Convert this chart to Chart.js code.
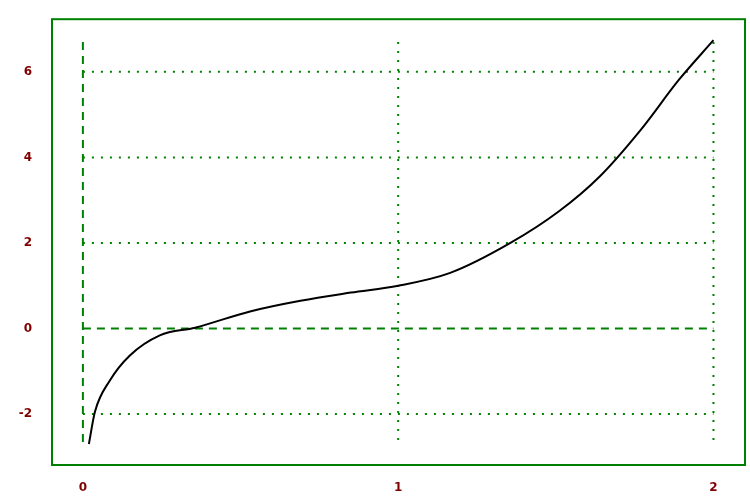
<!DOCTYPE html>
<html>
<head>
    <script src="https://cdn.jsdelivr.net/npm/chart.js"></script>
    <style>
        body { margin: 0; background: #fff; }
    </style>
</head>
<body>
<canvas id="curveChart" width="750" height="500"></canvas>
<script>
    const xValues = [0.019, 0.038, 0.086, 0.149, 0.244, 0.356, 0.53, 0.69, 0.85, 1.0, 1.165, 1.356, 1.51, 1.64, 1.77, 1.89, 2.0];
    const yValues = [-2.7, -1.95, -1.21, -0.63, -0.16, 0.02, 0.4, 0.65, 0.84, 1.0, 1.3, 2.0, 2.74, 3.56, 4.65, 5.81, 6.74];
    const xTicks = [0, 1, 2];
    const yTicks = [-2, 0, 2, 4, 6];

    const green = '#008000';

    // grid lines only span the data range, plus a green frame round the plot area
    const gridPlugin = {
        id: 'gridPlugin',
        beforeDatasetsDraw(chart) {
            const ctx = chart.ctx, x = chart.scales.x, y = chart.scales.y;
            const a = chart.chartArea;
            ctx.save();
            ctx.strokeStyle = green;
            ctx.lineWidth = 2;
            const top = y.getPixelForValue(6.7), bot = y.getPixelForValue(-2.7);
            const left = x.getPixelForValue(0), right = x.getPixelForValue(2);
            xTicks.forEach(v => {
                ctx.setLineDash(v === 0 ? [8, 6] : [2, 7]);
                const px = x.getPixelForValue(v);
                ctx.beginPath(); ctx.moveTo(px, top); ctx.lineTo(px, bot); ctx.stroke();
            });
            yTicks.forEach(v => {
                ctx.setLineDash(v === 0 ? [8, 6] : [2, 7]);
                const py = y.getPixelForValue(v);
                ctx.beginPath(); ctx.moveTo(left, py); ctx.lineTo(right, py); ctx.stroke();
            });
            ctx.setLineDash([]);
            ctx.strokeRect(a.left, a.top, a.right - a.left, a.bottom - a.top);
            ctx.restore();
        }
    };

    new Chart(document.getElementById('curveChart'), {
        type: 'line',
        data: {
            datasets: [{
                data: xValues.map((x, i) => ({ x: x, y: yValues[i] })),
                borderColor: '#000',
                borderWidth: 2,
                pointRadius: 0,
                cubicInterpolationMode: 'monotone',
                fill: false
            }]
        },
        options: {
            responsive: false,
            animation: false,
            devicePixelRatio: 1,
            layout: { padding: { left: 0, right: 5, top: 17, bottom: 0 } },
            plugins: { legend: { display: false }, tooltip: { enabled: false } },
            scales: {
                x: {
                    type: 'linear', min: -0.098, max: 2.10,
                    afterBuildTicks: s => { s.ticks = xTicks.map(v => ({ value: v })); },
                    afterFit: s => { s.height = 35; },
                    grid: { display: false }, border: { display: false },
                    ticks: { color: '#800000', font: { family: 'DejaVu Sans', size: 12, weight: 'bold' }, padding: 8 }
                },
                y: {
                    min: -3.19, max: 7.23,
                    afterBuildTicks: s => { s.ticks = yTicks.map(v => ({ value: v })); },
                    afterFit: s => { s.width = 52; },
                    grid: { display: false }, border: { display: false },
                    ticks: { color: '#800000', font: { family: 'DejaVu Sans', size: 12, weight: 'bold' }, padding: 12 }
                }
            }
        },
        plugins: [gridPlugin]
    });
</script>
</body>
</html>
